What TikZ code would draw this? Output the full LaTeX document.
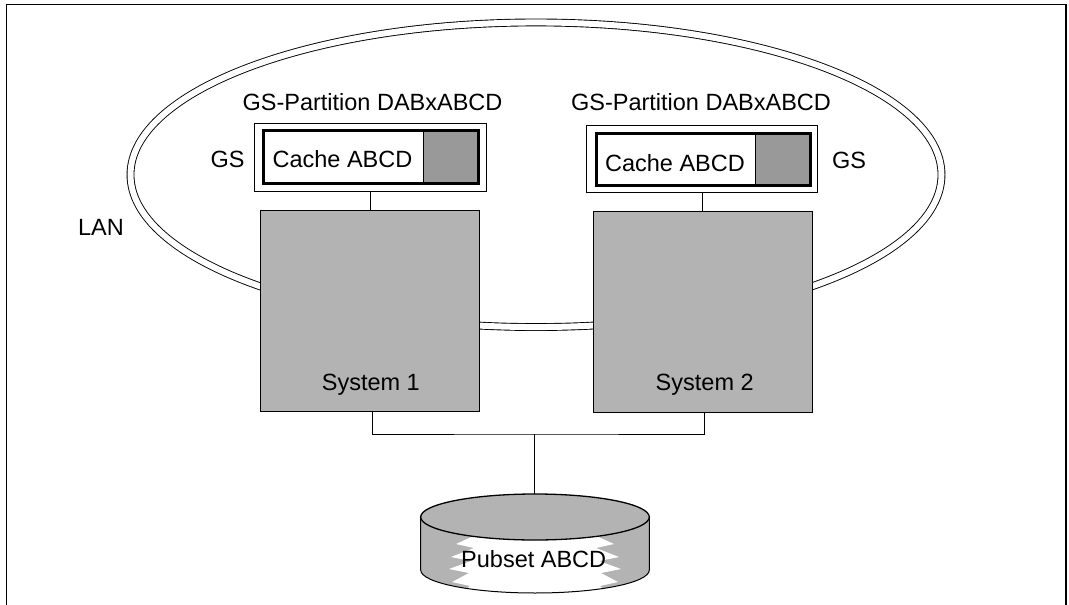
\documentclass[tikz,border=0pt]{standalone}
\usepackage{fontspec}
\setmainfont{Liberation Sans}
\definecolor{sysgray}{HTML}{B3B3B3}
\definecolor{cachegray}{HTML}{999999}
\begin{document}
\begin{tikzpicture}[x=1pt,y=-1pt,
  lbl/.style={font=\fontsize{23.5}{28}\selectfont, inner sep=0, anchor=base},
  sysbox/.style={draw, fill=sysgray, line width=1pt, inner sep=0, outer sep=0, anchor=north west},
  cacheouter/.style={draw, line width=1pt, inner sep=0, outer sep=0, anchor=north west},
  cacheinner/.style={draw, line width=3pt, inner sep=0, outer sep=0, anchor=north west},
  conn/.style={line width=1pt},
  lanring/.style={draw, double=white, double distance=6pt, line width=0.9pt},
  diskbox/.style={inner sep=0, outer sep=0, minimum width=228.6, minimum height=99}
]
\useasboundingbox (0,0) rectangle (1069,605);
% frame
\draw[line width=1.5pt] (6.5,605) -- (6.5,4.3) -- (1066,4.3) -- (1066,605);
% LAN ring
\draw[lanring] (536,174.75) ellipse [x radius=405.5, y radius=152.3];
% systems
\node[sysbox, minimum width=218.3, minimum height=201] (s1) at (260.7,210.7) {};
\node[sysbox, minimum width=219, minimum height=201] (s2) at (593,211) {};
\node[lbl] (s1t) at (370.8,390.7) {System 1};
\node[lbl] (s2t) at (704.7,390.7) {System 2};
% cache 1
\node[cacheouter, minimum width=232, minimum height=68] (c1o) at (254,123) {};
\fill[cachegray] (423,130) rectangle (478,183);
\draw[line width=1pt] (423,130) -- (423,183);
\node[cacheinner, minimum width=215, minimum height=53] (c1) at (263,130) {};
% cache 2
\node[cacheouter, minimum width=231, minimum height=67.7] (c2o) at (586.7,125) {};
\fill[cachegray] (755.7,133.3) rectangle (810.7,185);
\draw[line width=1pt] (755.7,133.3) -- (755.7,185);
\node[cacheinner, minimum width=214.7, minimum height=51.7] (c2) at (596,133.3) {};
% labels
\node[lbl] (p1t) at (372.5,110) {GS-Partition DABxABCD};
\node[lbl] (p2t) at (701,110) {GS-Partition DABxABCD};
\node[lbl] (c1t) at (342.5,167.3) {Cache ABCD};
\node[lbl] (c2t) at (675,171.5) {Cache ABCD};
\node[lbl] (gs1) at (227.5,167) {GS};
\node[lbl] (gs2) at (849,168) {GS};
\node[lbl] (lan) at (101,235) {LAN};
% disk
\node[diskbox] (disk) at (535,543.5) {};
\fill[sysgray] (420.7,517) -- (420.7,570) arc[start angle=180, end angle=0, x radius=114.3, y radius=23] -- (649.3,517) -- cycle;
\begin{scope}
\clip (420.7,517) -- (420.7,570) arc[start angle=180, end angle=0, x radius=114.3, y radius=23] -- (649.3,517) -- cycle;
\fill[white] (478,520) -- (478,534) -- (456,544) -- (474,548) -- (451,557) -- (471,561) -- (449,569) -- (469,573) -- (452,582) -- (470,586) -- (458,596) -- (460,605)
  -- (610,605) -- (612,596) -- (600,586) -- (618,582) -- (601,573) -- (621,569) -- (599,561) -- (619,557) -- (596,548) -- (614,544) -- (592,534) -- (592,520) -- cycle;
\end{scope}
\draw[line width=1pt] (420.7,517) -- (420.7,570) arc[start angle=180, end angle=0, x radius=114.3, y radius=23] -- (649.3,517);
\draw[line width=1.3pt, fill=sysgray] (535,517) ellipse [x radius=114.3, y radius=23];
\node[lbl] (pt) at (533.7,567.3) {Pubset ABCD};
% connectors
\coordinate (bus) at (534.3,434);
\draw[conn] (c1o.south) -- (c1o.south |- s1.north);
\draw[conn] (c2o.south) -- (c2o.south |- s2.north);
\draw[conn] ([xshift=2.6pt]s1.south) |- (bus) -| ([xshift=1.8pt]s2.south);
\draw[conn] (bus) -- (bus |- disk.north);
\end{tikzpicture}
\end{document}
